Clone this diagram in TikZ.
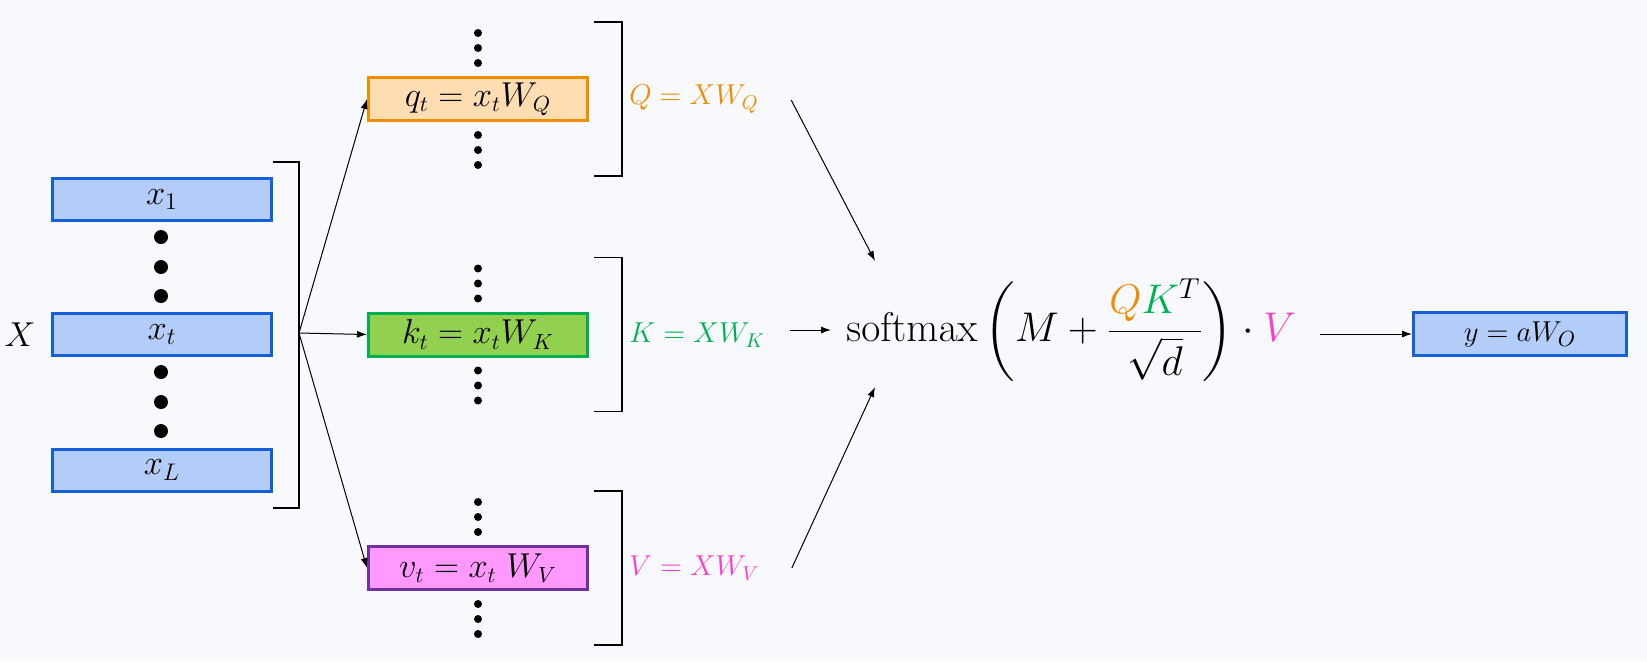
\documentclass[tikz,border=0pt]{standalone}
\usepackage{amsmath}
\usetikzlibrary{positioning, arrows.meta}
\definecolor{bgpage}{HTML}{F8F9FC}
\definecolor{xfill}{HTML}{B4CDF8}
\definecolor{xline}{HTML}{1560D9}
\definecolor{qfill}{HTML}{FFDDB3}
\definecolor{qline}{HTML}{F08C00}
\definecolor{kfill}{HTML}{92D050}
\definecolor{kline}{HTML}{00B050}
\definecolor{vfill}{HTML}{FF99FF}
\definecolor{vline}{HTML}{7030A0}
\definecolor{vtext}{HTML}{FF3DCC}

\begin{document}
\begin{tikzpicture}[
x=0.5pt, y=-0.5pt,
every node/.style={
inner sep=0pt,
text=black
},
tok/.style={draw=xline, fill=xfill, line width=1.5pt, minimum width=109.5pt, minimum height=21pt, font=\fontsize{16.5}{18}\selectfont},
proj/.style={line width=1.5pt, minimum width=109.5pt, minimum height=21.5pt, font=\fontsize{16}{18}\selectfont},
lab/.style={anchor=west, font=\fontsize{14}{16}\selectfont},
arr/.style={-{Latex[length=5pt,width=3.5pt]}, line width=0.5pt},
brk/.style={line width=0.6pt}
]
\path[use as bounding box, fill=bgpage] (0,0) rectangle (1647,661);

% input tokens
\node[tok] (x1) at (162,199.5) {$x_1$};
\node[tok] (xt) at (162,334.5) {$x_t$};
\node[tok] (xl) at (162,470) {$x_L$};
\node[font=\fontsize{17}{20}\selectfont] (X) at (20,335) {$X$};
\foreach \y in {237,267,296,372,402,431}
\fill (161,\y) circle (3.5pt);
\draw[brk] (273,162) -| (299,508) -- (273,508);
\coordinate (fan) at (299,333);

% projections
\node[proj, draw=qline, fill=qfill] (q) at (478,99) {$q_t = x_t W_Q$};
\node[proj, draw=kline, fill=kfill] (k) at (478,334.5) {$k_t = x_t W_K$};
\node[proj, draw=vline, fill=vfill] (v) at (478,568) {$v_t = x_t\; W_V$};
\foreach \n in {q,k,v}{
\foreach \d in {6.5,14,21.5}{
\fill ([yshift=\d pt]\n.north) circle (2pt);
\fill ([yshift=-\d pt]\n.south) circle (2pt);
}
\draw[brk] ([shift={(5,-77)}]\n.east) -| ([shift={(33,77)}]\n.east) -- ([shift={(5,77)}]\n.east);
\draw[arr] (fan) -- (\n.west);
}
\node[lab, text=qline] (qlab) at (629,99) {$Q = XW_Q$};
\node[lab, text=kline] (klab) at (629,335) {$K = XW_K$};
\node[lab, text=vtext] (vlab) at (629,568) {$V = XW_V$};

% attention
\node[anchor=west, font=\fontsize{22}{26}\selectfont] (smax) at (846,330)
{$\displaystyle \mathrm{softmax}\left(M+\frac{\textcolor{qline}{Q}\textcolor{kline}{K}^{T}}{\sqrt{d}}\right)\cdot \textcolor{vtext}{V}$};
\coordinate (intop) at (875,261);
\coordinate (inbot) at (875,387);
\draw[arr] ([shift={(32,1)}]qlab.east) -- (intop);
\draw[arr] ([shift={(32,0)}]vlab.east) -- (inbot);
\draw[arr] ([shift={(24,-5)}]klab.east) -- ([xshift=-7.5pt]smax.west);

% output
\node[tok, minimum width=106.5pt, minimum height=21.5pt, font=\fontsize{15}{17}\selectfont] (y) at (1520,334) {$y = aW_O$};
\draw[arr] ([xshift=-46pt]y.west) -- (y.west);
\end{tikzpicture}
\end{document}
